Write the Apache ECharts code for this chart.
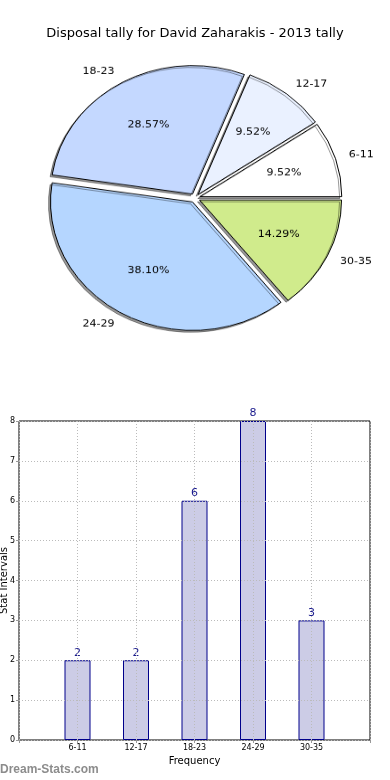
<!DOCTYPE html>
<html><head><meta charset="utf-8">
<script src="https://cdn.jsdelivr.net/npm/echarts@6/dist/echarts.min.js"></script>
<style>
html,body{margin:0;padding:0;background:#fff;}
#main{position:absolute;left:0;top:0;width:390px;height:780px;}
#pie{position:absolute;left:0;top:0;width:390px;height:400px;transform-origin:195px 198px;transform:scaleY(0.905);}
</style></head><body>
<div id="main"></div><div id="pie"></div>
<script>
const titleText = 'Disposal tally for David Zaharakis - 2013 tally';
const categories = ['6-11', '12-17', '18-23', '24-29', '30-35'];
const counts = [2, 2, 6, 8, 3];
const sliceColors = ['#ffffff', '#eaf1ff', '#c4d8ff', '#b5d6ff', '#d0eb8c'];
const yMin = 0, yMax = 8, yStep = 1;
const total = counts.reduce((a, b) => a + b, 0);
const FONT = 'DejaVu Sans';

const main = echarts.init(document.getElementById('main'), null, {renderer: 'canvas'});
main.setOption({
  animation: false,
  backgroundColor: '#fff',
  title: {
    text: titleText, left: 'center', top: 22,
    textStyle: {fontFamily: FONT, fontSize: 13, fontWeight: 'normal', color: '#000'}
  },
  grid: {left: 19, right: 20, top: 421, bottom: 40, containLabel: false, outerBoundsMode: 'none',
    show: true, borderColor: '#000', borderWidth: 1, backgroundColor: 'transparent'},
  xAxis: {
    type: 'category', data: [''].concat(categories, ['']), boundaryGap: false, z: 5,
    axisLine: {show: false},
    axisTick: {show: true, length: 3, lineStyle: {color: '#999'}},
    axisLabel: {interval: 0, fontFamily: FONT, fontSize: 8, color: '#000', margin: 4},
    splitLine: {show: true, lineStyle: {color: '#bbb', type: [1, 2], width: 1}},
    name: 'Frequency', nameLocation: 'middle', nameGap: 16, nameMoveOverlap: false,
    nameTextStyle: {fontFamily: FONT, fontSize: 10, color: '#000'}
  },
  yAxis: {
    type: 'value', min: yMin, max: yMax, interval: yStep, z: 5,
    axisLine: {show: false},
    axisTick: {show: true, length: 3, lineStyle: {color: '#999'}},
    axisLabel: {fontFamily: FONT, fontSize: 8, color: '#000', margin: 4},
    splitLine: {show: true, lineStyle: {color: '#bbb', type: [1, 2], width: 1}},
    name: 'Stat Intervals', nameLocation: 'middle', nameGap: 10, nameMoveOverlap: false,
    nameTextStyle: {fontFamily: FONT, fontSize: 10, color: '#000'}
  },
  series: [{
    type: 'bar', z: 2, barWidth: 26,
    data: [null].concat(counts, [null]),
    itemStyle: {color: '#ccccE6', borderColor: '#00008b', borderWidth: 1},
    label: {show: true, position: 'top', distance: 2, fontFamily: FONT, fontSize: 11, color: '#1a1a8c'}
  }],
  graphic: [{
    type: 'text', left: 0, top: 764,
    style: {text: 'Dream-Stats.com', fill: '#8c8c8c', font: 'bold 12px "Liberation Sans"'}
  }]
});

const pie = echarts.init(document.getElementById('pie'), null, {renderer: 'canvas'});
const pieData = categories.map((c, i) => ({name: c, value: counts[i], selected: true, itemStyle: {color: sliceColors[i]}}));
const labelData = categories.map((c, i) => ({name: c, value: counts[i], selected: true}));
pie.setOption({
  animation: false,
  series: [{
    type: 'pie', center: [195, 198], radius: [0, 142], startAngle: 0, clockwise: false,
    selectedMode: 'multiple', selectedOffset: 5, avoidLabelOverlap: false,
    emphasis: {disabled: true},
    itemStyle: {borderColor: '#000', borderWidth: 1, shadowColor: 'rgba(0,0,0,0.4)', shadowOffsetX: -2, shadowOffsetY: 2, shadowBlur: 0},
    label: {show: true, position: 'outside', formatter: '{b}', fontFamily: FONT, fontSize: 11, color: '#000', distanceToLabelLine: 0},
    labelLine: {show: false, length: 14, length2: 0},
    data: pieData
  }, {
    type: 'pie', center: [195, 198], radius: [0, 170], startAngle: 0, clockwise: false,
    selectedMode: 'multiple', selectedOffset: 5, avoidLabelOverlap: false, silent: true,
    emphasis: {disabled: true},
    itemStyle: {color: 'rgba(0,0,0,0)', borderWidth: 0},
    label: {show: true, position: 'inside', fontFamily: FONT, fontSize: 11, color: '#000',
      formatter: p => (p.value / total * 100).toFixed(2) + '%'},
    labelLine: {show: false},
    data: labelData
  }]
});
</script>
</body></html>
